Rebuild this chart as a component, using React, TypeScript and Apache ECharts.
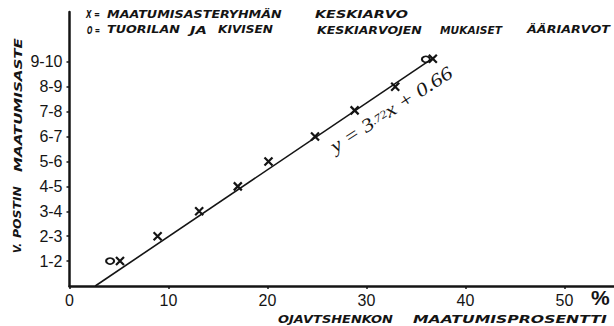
import React, { useEffect, useRef } from "react";
import * as echarts from "echarts";

// ---- data ----
const classLabels = ["1-2", "2-3", "3-4", "4-5", "5-6", "6-7", "7-8", "8-9", "9-10"];
const classLevels = [1, 2, 3, 4, 5, 6, 7, 8, 9];
const xTickValues = [0, 10, 20, 30, 40, 50];
// X markers: mean of each decomposition-degree group
const meanPct = [5.1, 8.9, 13.1, 17.0, 20.1, 24.8, 28.8, 32.9, 36.7];
const meanLevel = [1.0, 2.0, 3.0, 4.0, 5.0, 6.0, 7.05, 8.0, 9.12];
// O markers: extreme values after Tuorila & Kivinen
const extremePct = [4.1, 36.0];
const extremeLevel = [1.0, 9.1];
// fitted line y = 3.72x + 0.66 (as drawn)
const fitPct = [2.6, 36.9];
const fitLevel = [0, 9.2];

const INK = "#141414";
const CAP_FONT = "DejaVu Sans";

function measure(text: string, font: string): number {
  const ctx = document.createElement("canvas").getContext("2d");
  if (!ctx) return text.length * 7;
  ctx.font = font;
  return ctx.measureText(text).width;
}

// stretched stencil-like caption word, spanning [a, b] along its baseline direction
function word(text: string, a: number, b: number, c: number, vertical = false) {
  const size = 10;
  const font = `italic bold ${size}px "${CAP_FONT}"`;
  const w = measure(text, font);
  const span = Math.abs(b - a);
  const sx = w > 0 ? span / w : 1;
  return {
    type: "text",
    x: vertical ? c : a,
    y: vertical ? a : c,
    rotation: vertical ? Math.PI / 2 : 0,
    scaleX: sx,
    silent: true,
    style: {
      text,
      fill: INK,
      fontSize: size,
      fontFamily: CAP_FONT,
      fontWeight: "bold",
      fontStyle: "italic",
      align: "left",
      verticalAlign: "middle",
      textAlign: "left",
      textVerticalAlign: "middle",
    },
  };
}

export default function App() {
  const ref = useRef<HTMLDivElement>(null);

  useEffect(() => {
    if (!ref.current) return;
    const chart = echarts.init(ref.current, undefined, { renderer: "svg" });

    const graphics: any[] = [
      // legend lines
      word("X =", 86, 100, 15),
      word("MAATUMISASTERYHMÄN", 107, 282, 15),
      word("KESKIARVO", 315, 408, 15),
      word("O =", 87, 100, 30),
      word("TUORILAN", 107, 180, 30),
      word("JA", 190, 207, 30),
      word("KIVISEN", 218, 273, 30),
      word("KESKIARVOJEN", 317, 422, 30),
      word("MUKAISET", 440, 502, 30),
      word("ÄÄRIARVOT", 527, 610, 30),
      // x-axis title
      word("OJAVTSHENKON", 278, 393, 320),
      word("MAATUMISPROSENTTI", 413, 607, 320),
      // y-axis title (vertical, bottom to top)
      word("V.", 253, 243, 18, true),
      word("POSTIN", 238, 186, 18, true),
      word("MAATUMISASTE", 172, 38, 18, true),
      // percent sign
      {
        type: "text",
        x: 591,
        y: 297,
        silent: true,
        style: {
          text: "%",
          fill: INK,
          fontSize: 21,
          fontFamily: "Liberation Sans",
          fontWeight: "bold",
          align: "left",
          verticalAlign: "middle",
          textAlign: "left",
          textVerticalAlign: "middle",
        },
      },
      // equation, written along the line
      {
        type: "text",
        x: 337,
        y: 156,
        rotation: (33 * Math.PI) / 180,
        scaleX: 1.2,
        silent: true,
        style: {
          text: "{a|y = 3}{b|.72}{a|x + 0.66}",
          fill: INK,
          fontFamily: "Liberation Serif",
          fontStyle: "italic",
          align: "left",
          verticalAlign: "bottom",
          textAlign: "left",
          textVerticalAlign: "bottom",
          rich: {
            a: { fontSize: 19, fontFamily: "Liberation Serif", fontStyle: "italic", fill: INK },
            b: { fontSize: 11, fontFamily: "Liberation Serif", fontStyle: "italic", fill: INK },
          },
        },
      },
    ];

    chart.setOption({
      animation: false,
      backgroundColor: "#ffffff",
      grid: { left: 69.5, top: 12, width: 547, height: 274, containLabel: false },
      xAxis: {
        type: "value",
        min: 0,
        max: 55,
        interval: 10,
        axisLine: { show: true, lineStyle: { color: INK, width: 2.5 } },
        axisTick: {
          show: true,
          length: 3,
          customValues: xTickValues,
          lineStyle: { color: INK, width: 1.5 },
        },
        axisLabel: {
          customValues: xTickValues,
          formatter: (v: number) => String(v),
          color: INK,
          fontSize: 16,
          fontFamily: "Liberation Sans",
          margin: 6,
        },
        splitLine: { show: false },
      },
      yAxis: {
        type: "value",
        min: 0,
        max: 11,
        interval: 1,
        axisLine: { show: true, lineStyle: { color: INK, width: 2.5 } },
        axisTick: {
          show: true,
          length: 3,
          customValues: classLevels,
          lineStyle: { color: INK, width: 1.5 },
        },
        axisLabel: {
          customValues: classLevels,
          formatter: (v: number) => classLabels[Math.round(v) - 1] ?? "",
          color: INK,
          fontSize: 16,
          fontFamily: "Liberation Sans",
          margin: 7,
        },
        splitLine: { show: false },
      },
      series: [
        {
          type: "line",
          data: fitPct.map((p, i) => [p, fitLevel[i]]),
          symbol: "none",
          lineStyle: { color: INK, width: 1.6 },
          silent: true,
        },
        {
          type: "scatter",
          data: meanPct.map((p, i) => [p, meanLevel[i]]),
          symbol: "path://M0,0L10,10M10,0L0,10",
          symbolSize: 8,
          itemStyle: { color: INK, borderColor: INK, borderWidth: 2.2, opacity: 1 },
          silent: true,
        },
        {
          type: "scatter",
          data: extremePct.map((p, i) => [p, extremeLevel[i]]),
          symbol: "circle",
          symbolSize: [8, 6],
          itemStyle: { color: "transparent", borderColor: INK, borderWidth: 1.8, opacity: 1 },
          silent: true,
        },
      ],
      graphic: graphics,
    });

    return () => chart.dispose();
  }, []);

  return (
    <div
      ref={ref}
      style={{ position: "absolute", left: 0, top: 0, width: 614, height: 326, background: "#fff" }}
    />
  );
}
